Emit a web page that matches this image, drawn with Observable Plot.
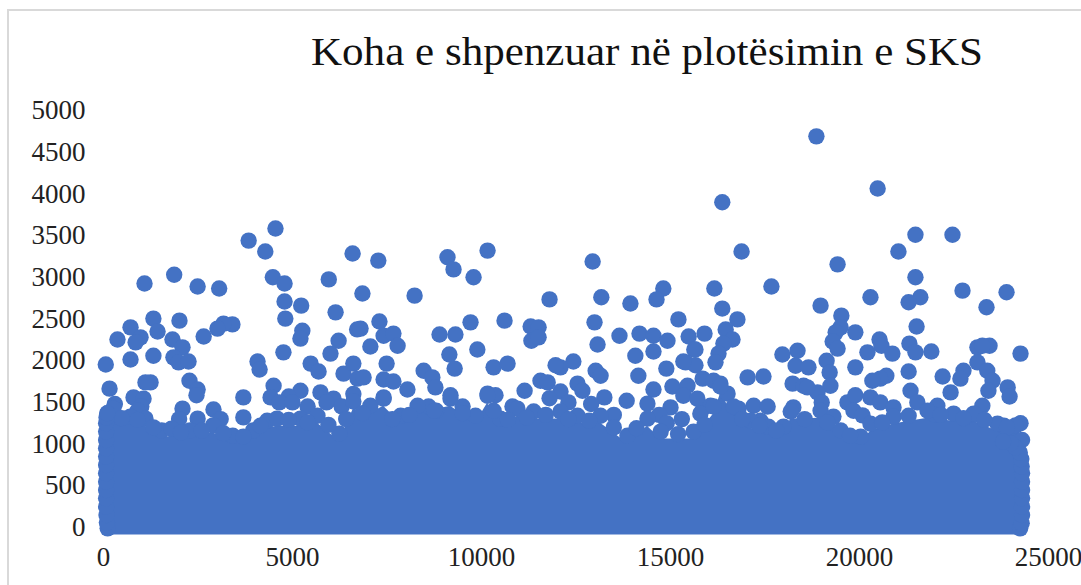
<!DOCTYPE html>
<html>
<head>
<meta charset="utf-8">
<script src="https://cdn.jsdelivr.net/npm/d3@7"></script>
<script src="https://cdn.jsdelivr.net/npm/@observablehq/plot@0.6"></script>
<style>
html,body{margin:0;padding:0;background:#fff}
#wrap{position:relative;width:1081px;height:585px;overflow:hidden}
#frame{position:absolute;left:7px;top:9px;right:-4px;bottom:-4px;border:2px solid #d9d9d9;pointer-events:none}
#title{position:absolute;left:311px;top:29px;margin:0;font:400 39.5px "Liberation Serif",serif;color:#111;white-space:nowrap;transform:scaleX(1.09);transform-origin:left center}
svg{display:block}
</style>
</head>
<body>
<div id="wrap">
<div id="frame"></div>
<h1 id="title">Koha e shpenzuar në plotësimin e SKS</h1>
<div id="chart"></div>
</div>
<script>
const xTicks = [0,5000,10000,15000,20000,25000];
const yTicks = [0,500,1000,1500,2000,2500,3000,3500,4000,4500,5000];

// upper edge of the solid mass
const massX = [110,260,710,1110,1540,1800,2290,2900,3420,3960,4330,4590,5210,5660,6240,6610,7060,7410,7860,8310,9180,9840,10160,10500,10950,11380,12090,12540,13150,13860,14390,14740,15610,16140,16320,16670,17120,17590,17990,18180,18970,19310,19500,20030,20290,20900,21800,22490,23020,23650,24130,24300];
const massY = [1370,1425,1330,1305,1165,1185,1165,1225,1100,1165,1280,1305,1305,1340,1125,1510,1460,1545,1340,1460,1545,1340,1580,1305,1425,1390,1390,1340,1340,1100,1305,1150,1150,1450,1690,1450,1280,1210,1210,1390,1400,1330,1165,1090,1245,1330,1400,1365,1365,1245,1225,1050];

// more points on that edge, between the ones above
const bumpX = [480,900,1320,2050,2600,3170,3700,4150,4900,5400,5950,6420,6850,7640,8090,8750,9500,10320,10700,11200,11700,12300,12850,13500,14100,15200,15900,16900,17350,17800,18550,19150,19750,20600,21300,22150,22750,23300,23900];
const bumpY = [1310,1290,1200,1140,1160,1130,1090,1220,1290,1260,1230,1300,1370,1300,1350,1400,1370,1400,1290,1320,1350,1300,1280,1200,1190,1120,1230,1300,1220,1160,1300,1260,1100,1260,1340,1350,1310,1290,1200];

// separate points, left part
const pointsLeft = [[1085,2926],[1870,3030],[2490,2890],[3060,2865],[3840,3440],[4550,3585],[4280,3310],[4480,3000],[4790,2925],[4790,2710],[5230,2660],[4810,2505],[5960,2975],[6590,3285],[6850,2805],[6140,2580],[6710,2375],[5260,2360],[6220,2240],[5210,2265],[1320,2505],[715,2400],[370,2255],[980,2280],[1430,2350],[2010,2480],[1825,2255],[2650,2290],[3410,2435],[3175,2445],[3015,2385],[60,1955],[715,2015],[1320,2060],[850,2220],[2090,2160],[1850,2040],[1985,1980],[2250,1990],[2275,1760],[2490,1655],[2460,1585],[1245,1740],[1110,1740],[160,1665],[795,1560],[1060,1545],[2090,1425],[2000,1300],[2910,1415],[2490,1305],[3700,1560],[3700,1320],[4075,1990],[4130,1895],[4760,2100],[5480,1965],[5690,1870],[6005,2085],[6350,1845],[6610,1965],[4500,1700],[4420,1560],[5210,1640],[5740,1620],[6085,1545],[4900,1570],[4650,1500],[6720,1785],[6610,1600],[5000,1500],[3100,1300],[1000,1450],[900,1400],[300,1480],[5400,1450],[5900,1500],[6300,1450]];

// separate points, middle part
const pointsMiddle = [[7270,3200],[9100,3240],[9260,3095],[9790,3000],[10160,3320],[12940,3190],[8230,2780],[11800,2735],[13170,2760],[13940,2685],[14810,2865],[14630,2735],[16160,2865],[7300,2470],[6800,2385],[7410,2300],[7670,2325],[7780,2180],[7060,2170],[8890,2315],[9310,2315],[9710,2460],[10610,2480],[11300,2410],[11510,2400],[11320,2240],[11510,2280],[12990,2460],[13070,2195],[13650,2300],[14180,2325],[14550,2300],[14920,2240],[15210,2495],[15480,2290],[15900,2325],[15630,2135],[14550,2110],[14070,2060],[9150,2075],[9890,2135],[9290,1905],[10320,1920],[10690,1965],[7490,1965],[8470,1880],[8700,1800],[6880,1800],[7410,1775],[7670,1750],[8040,1655],[12430,1990],[12090,1920],[11960,1945],[13020,1880],[13150,1820],[14150,1820],[14890,1905],[15400,1980],[15660,1945],[15050,1690],[15450,1700],[14550,1655],[11560,1760],[11750,1740],[11140,1640],[12540,1725],[12670,1640],[12090,1630],[13250,1560],[13840,1520],[10160,1605],[10370,1585],[9180,1585],[7410,1560],[8780,1680],[10820,1450],[14390,1485],[15000,1440],[15870,1440],[15340,1990],[15660,2135],[15340,1580],[15710,1545],[16060,1460],[15790,1365],[8600,1450],[8800,1400],[12900,1480],[12300,1500],[11800,1550],[14700,1350],[13500,1350],[14900,1250],[15300,1300],[16800,1425],[9500,1450]];

// separate points, right part
const pointsRight = [[18860,4690],[20480,4065],[16370,3900],[21480,3510],[22460,3510],[21030,3310],[16880,3310],[19420,3155],[21480,3000],[17670,2890],[22725,2840],[23890,2820],[23360,2640],[20290,2760],[21610,2760],[21300,2700],[18970,2660],[16370,2625],[16770,2495],[19520,2540],[21510,2410],[19500,2400],[19370,2340],[19890,2340],[19290,2230],[19420,2145],[16460,2375],[16640,2255],[16400,2205],[16270,2085],[16190,1980],[15850,1785],[16140,1760],[16320,1725],[16510,1605],[17040,1800],[17460,1810],[17200,1460],[17570,1450],[20530,2255],[20580,2180],[20870,2085],[20210,2100],[21320,2205],[21480,2100],[21900,2110],[23120,2160],[23440,2180],[23250,2180],[24260,2085],[18360,2120],[17960,2075],[19130,2000],[23120,1980],[22750,1880],[23380,1880],[23520,1760],[23410,1640],[23920,1680],[23970,1570],[22410,1620],[22670,1785],[22200,1810],[21300,1870],[20710,1820],[20550,1785],[20340,1760],[19890,1920],[19210,1860],[19230,1700],[18310,1940],[18650,1920],[18230,1725],[18520,1700],[18890,1620],[18250,1440],[18620,1680],[21350,1640],[19680,1500],[19890,1585],[20290,1560],[20550,1500],[19840,1400],[20080,1345],[20900,1440],[21530,1500],[22060,1460],[23250,1460],[24260,1250],[23820,1220],[24000,1150],[19000,1500],[22000,1350],[23000,1350],[17380,1280]];

// dots along the left and right ends of the mass
const edgeLeftX = [110,90,80,70,70,70,70,70,70,70,70,70,70,70,80,100];
const edgeLeftY = [-10,60,150,250,350,450,550,650,750,850,950,1050,1150,1250,1320,1370];
const edgeRightX = [24250,24290,24300,24300,24300,24300,24300,24300,24290,24280,24240,24130,24000,23800];
const edgeRightY = [-10,50,150,250,350,450,550,650,730,820,900,960,1010,1030];

const blue = "#4472C4";
const mass = massX.map((x,i)=>({x,y:massY[i]}));
const dots = [
  ...pointsLeft,...pointsMiddle,...pointsRight,
  ...massX.map((x,i)=>[x,massY[i]]),
  ...bumpX.map((x,i)=>[x,bumpY[i]]),
  ...edgeLeftX.map((x,i)=>[x,edgeLeftY[i]]),
  ...edgeRightX.map((x,i)=>[x,edgeRightY[i]])
];

const chart = Plot.plot({
  width:1081,height:585,
  marginLeft:103,marginRight:33,marginTop:110,marginBottom:58,
  x:{domain:[0,25000]},
  y:{domain:[0,5000]},
  style:{background:"transparent"},
  marks:[
    Plot.areaY(mass,{x:"x",y1:-90,y2:d=>d.y-90,fill:blue}),
    Plot.dot(dots,{x:d=>d[0],y:d=>d[1],r:8.2,fill:blue,stroke:"none"}),
    Plot.axisX({ticks:xTicks,tickSize:0,tickPadding:19,tickFormat:d=>String(d),label:null,fontSize:27,fontFamily:"Liberation Serif",color:"#222"}),
    Plot.axisY({ticks:yTicks,tickSize:0,tickPadding:18,tickFormat:d=>String(d),label:null,fontSize:27,fontFamily:"Liberation Serif",color:"#222"})
  ]
});
document.getElementById("chart").append(chart);
</script>
</body>
</html>
